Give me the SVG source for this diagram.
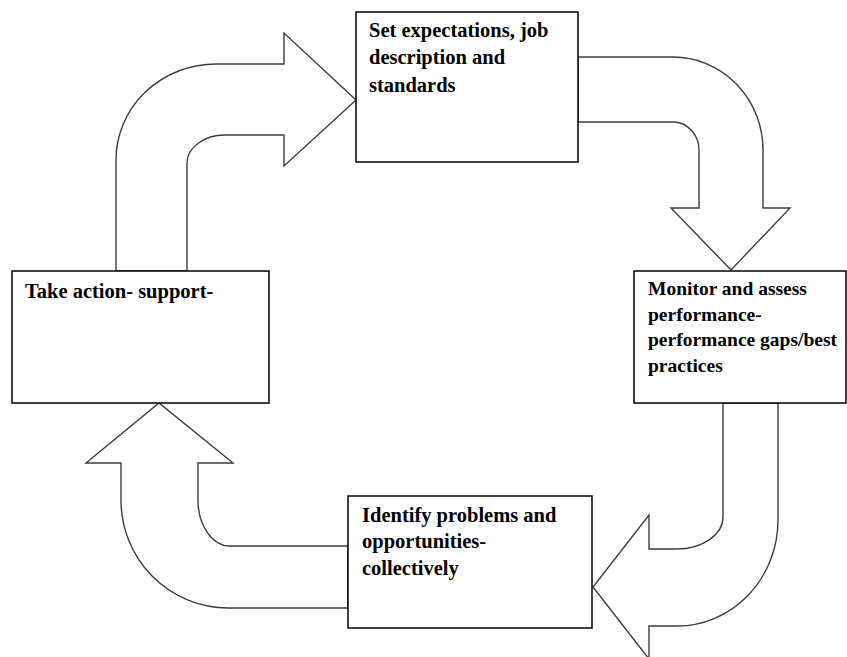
<svg xmlns="http://www.w3.org/2000/svg" width="847" height="657" viewBox="0 0 847 657">
<style>
.arrow{fill:#fff;stroke:#3c3c3c;stroke-width:1.4;stroke-linejoin:miter}
.box{fill:#fff;stroke:#000;stroke-width:1.5}
.t{font-family:"Liberation Serif","Times New Roman",serif;font-weight:bold;font-size:20.5px;fill:#000}
.tr{font-size:19.5px}
</style>
<rect width="847" height="657" fill="#fff"/>
<g id="connectors">
<path class="arrow" d="M116,271 L116,160 A100,96 0 0 1 216,64 L284,64 L284,33 L356,100 L284,166 L284,135 L225,135 A38,28 0 0 0 187,163 L187,271 Z"/>
<path class="arrow" d="M578,57 L673,57 A90,93 0 0 1 763,150 L763,208 L790,208 L731,270 L671,208 L699,208 L699,150 A26,28 0 0 0 673,122 L578,122 Z"/>
<path class="arrow" d="M778,403 L778,520 A101,106 0 0 1 677,626 L649,626 L649,659 L593,587 L649,515 L649,549 L677,549 A46,32 0 0 0 723,517 L723,403 Z"/>
<path class="arrow" d="M348,608 L228,608 A107,108 0 0 1 121,500 L121,463 L86,463 L159,403 L233,463 L198,463 L198,500 A32,46 0 0 0 230,546 L348,546 Z"/>
</g>
<g id="set-expectations">
<rect class="box" x="356" y="12" width="222" height="150"/>
<text class="t" x="369" y="37">Set expectations,  job</text>
<text class="t" x="369" y="64">description  and</text>
<text class="t" x="369" y="92">standards</text>
</g>
<g id="monitor">
<rect class="box" x="634" y="271" width="212" height="132"/>
<text class="t tr" x="648" y="295">Monitor and assess</text>
<text class="t tr" x="648" y="321">performance-</text>
<text class="t tr" x="648" y="346">performance gaps/best</text>
<text class="t tr" x="648" y="372">practices</text>
</g>
<g id="take-action">
<rect class="box" x="12" y="271" width="257" height="132"/>
<text class="t" x="25" y="298">Take action- support-</text>
</g>
<g id="identify">
<rect class="box" x="348" y="496" width="244" height="132"/>
<text class="t" x="362" y="522">Identify problems and</text>
<text class="t" x="362" y="548">opportunities-</text>
<text class="t" x="362" y="575">collectively</text>
</g>
</svg>
